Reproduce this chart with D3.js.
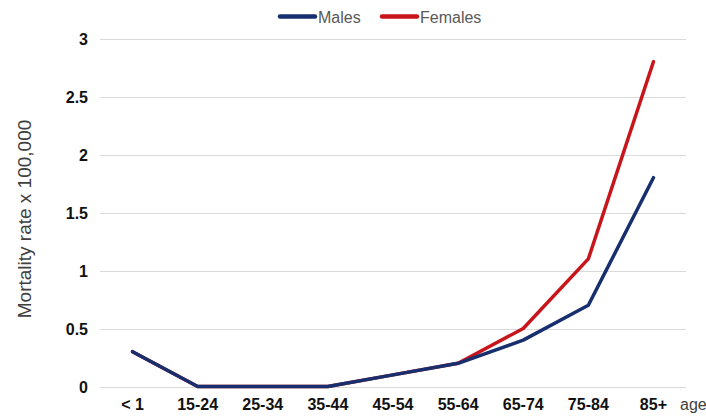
<!DOCTYPE html>
<html><head><meta charset="utf-8">
<script src="https://cdn.jsdelivr.net/npm/d3@7"></script>
<style>body{margin:0;background:#fff}svg{display:block}</style>
</head><body>
<svg id="c" width="706" height="416"></svg>
<script>
const categories = ["< 1","15-24","25-34","35-44","45-54","55-64","65-74","75-84","85+"];
const males   = [0.3,0,0,0,0.1,0.2,0.4,0.7,1.8];
const females = [0.3,0,0,0,0.1,0.2,0.5,1.1,2.8];
const yTicks = [0,0.5,1,1.5,2,2.5,3];
const yTickLabels = ["0","0.5","1","1.5","2","2.5","3"];
const seriesNames = ["Males","Females"];
const colors = ["#172f6e","#c8151b"];

const svg = d3.select("#c");
const font = "Liberation Sans, Arial, sans-serif";
const x = d3.scaleBand().domain(categories).range([100, 686]);
const y = d3.scaleLinear().domain([0,3]).range([386.5, 38.5]);

// grid
svg.append("g").selectAll("line").data(yTicks).join("line")
  .attr("x1",100).attr("x2",686)
  .attr("y1",d=>Math.round(y(d))+0.5).attr("y2",d=>Math.round(y(d))+0.5)
  .attr("stroke","#d9d9d9").attr("stroke-width",1);

// y labels
svg.append("g").selectAll("text").data(yTicks).join("text")
  .attr("x",88).attr("y",d=>y(d)+6)
  .attr("text-anchor","end")
  .attr("font-family",font)
  .attr("font-weight","bold").attr("font-size",16).attr("fill","#111")
  .text((d,i)=>yTickLabels[i]);

// x labels
svg.append("g").selectAll("text").data(categories).join("text")
  .attr("x",d=>x(d)+x.bandwidth()/2).attr("y",410)
  .attr("text-anchor","middle")
  .attr("font-family",font)
  .attr("font-weight","bold").attr("font-size",16).attr("fill","#111")
  .text(d=>d);

svg.append("text").attr("x",680).attr("y",410)
  .attr("font-family",font)
  .attr("font-size",16).attr("fill","#404040").text("age");

// y title
svg.append("text")
  .attr("transform","translate(31,219) rotate(-90)")
  .attr("text-anchor","middle")
  .attr("font-family",font)
  .attr("font-size",19).attr("fill","#404040")
  .text("Mortality rate x 100,000");

// lines
const line = d3.line().x((d,i)=>x(categories[i])+x.bandwidth()/2).y(d=>y(d));
[[females,colors[1]],[males,colors[0]]].forEach(([data,col])=>{
  svg.append("path").datum(data).attr("d",line)
    .attr("fill","none").attr("stroke",col).attr("stroke-width",3.5)
    .attr("stroke-linejoin","round").attr("stroke-linecap","round");
});

// legend
const leg = [{n:seriesNames[0],c:colors[0],x:278},{n:seriesNames[1],c:colors[1],x:380}];
leg.forEach(l=>{
  svg.append("line").attr("x1",l.x+2).attr("x2",l.x+37).attr("y1",16.5).attr("y2",16.5)
    .attr("stroke",l.c).attr("stroke-width",4.5).attr("stroke-linecap","round");
  svg.append("text").attr("x",l.x+40).attr("y",22.5)
    .attr("font-family",font)
    .attr("font-size",16).attr("fill","#595959").text(l.n);
});
</script>
</body></html>
